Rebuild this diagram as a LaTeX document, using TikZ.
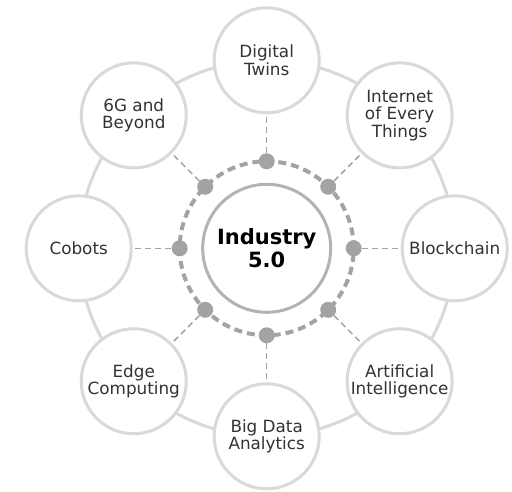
\documentclass[tikz,border=0pt]{standalone}
\usepackage{fontspec}
\setmainfont{DejaVu Sans}
\definecolor{orbitgray}{HTML}{D9D9D9}
\definecolor{dotgray}{HTML}{A3A3A3}
\definecolor{coregray}{HTML}{B3B3B3}
\definecolor{textgray}{HTML}{333333}
\begin{document}
\begin{tikzpicture}[x=1pt,y=1pt]
\tikzstyle{tech}=[draw=orbitgray, line width=3pt, fill=white, circle, minimum size=105pt, inner sep=0pt, align=center, text=textgray, font=\fontsize{16.8}{17.5}\selectfont]
\tikzstyle{core}=[draw=coregray, line width=3pt, fill=white, circle, minimum size=128pt, inner sep=0pt, align=center, font=\fontsize{21}{23}\selectfont\bfseries]
\tikzstyle{dot}=[fill=dotgray, circle, minimum size=16pt, inner sep=0pt]
\tikzstyle{link}=[draw=dotgray, line width=1.5pt, dash pattern=on 6pt off 4pt]
\tikzstyle{ring}=[draw=dotgray, line width=4pt, dash pattern=on 8pt off 5pt]
\tikzstyle{orbit}=[draw=orbitgray, line width=3pt]

\useasboundingbox (-266.7,-243.7) rectangle (245.3,248.3);

% Outer orbit
\draw[orbit] (0,0) circle[radius=188];

% Technologies
\node[tech] (twins) at (90:188) {Digital\\Twins};
\node[tech] (ioe) at (45:188) {Internet\\of Every\\Things};
\node[tech] (chain) at (0:188) {Blockchain};
\node[tech] (ai) at (-45:188) {Artificial\\Intelligence};
\node[tech] (bigdata) at (-90:188) {Big Data\\Analytics};
\node[tech] (edge) at (-135:188) {Edge\\Computing};
\node[tech] (cobots) at (180:188) {Cobots};
\node[tech] (sixg) at (135:188) {6G and\\Beyond};

% Center
\node[core] (industry) at (0,0) {Industry\\5.0};
\draw[ring] (industry.center) circle[radius=87];

% Dots on the ring
\node[dot] (dtwins) at (90:87) {};
\node[dot] (dioe) at (45:87) {};
\node[dot] (dchain) at (0:87) {};
\node[dot] (dai) at (-45:87) {};
\node[dot] (dbigdata) at (-90:87) {};
\node[dot] (dedge) at (-135:87) {};
\node[dot] (dcobots) at (180:87) {};
\node[dot] (dsixg) at (135:87) {};

% Links
\draw[link] (dtwins) -- (twins);
\draw[link] (dioe) -- (ioe);
\draw[link] (dchain) -- (chain);
\draw[link] (dai) -- (ai);
\draw[link] (dbigdata) -- (bigdata);
\draw[link] (dedge) -- (edge);
\draw[link] (dcobots) -- (cobots);
\draw[link] (dsixg) -- (sixg);
\end{tikzpicture}
\end{document}
